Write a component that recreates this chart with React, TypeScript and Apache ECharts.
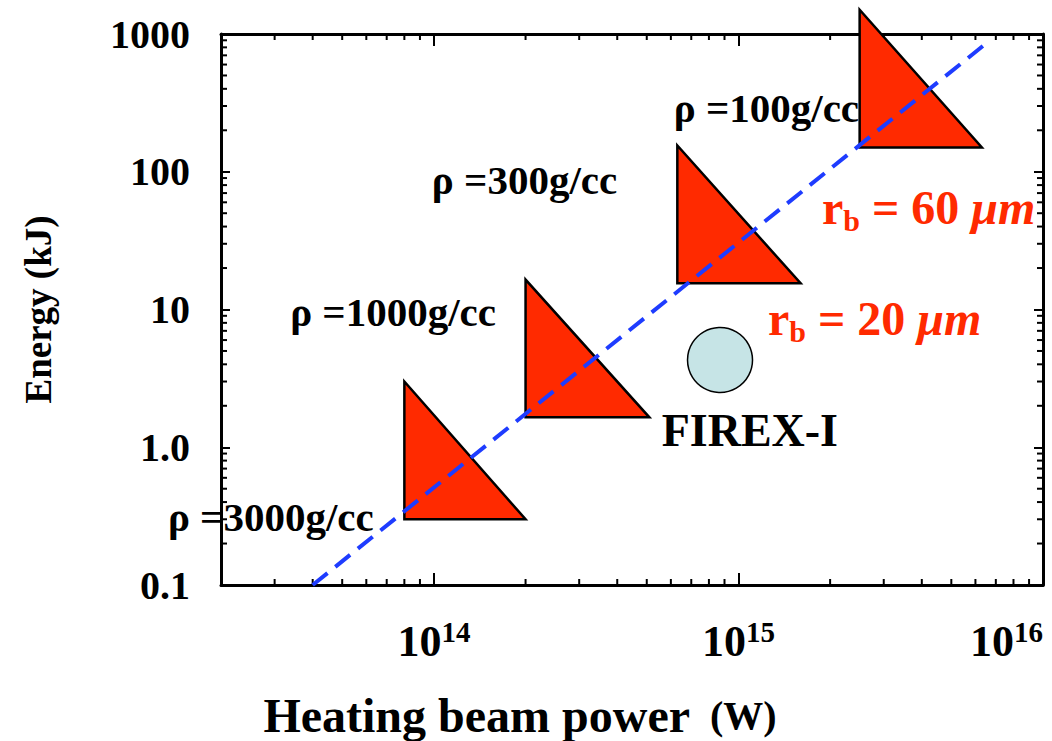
import { useEffect, useRef } from 'react';
import * as echarts from 'echarts';

const FONT = "'Liberation Serif', 'Times New Roman', Times, serif";
const RED = '#ff2a00';
const BLUE = '#1e3cff';

// axis extents
const xRange = [2e13, 1e16];
const yRange = [0.1, 1000];
const yTickLabels = ['0.1', '1.0', '10', '100', '1000'];

// heating windows per target density: beam power span and energy span
const densities = ['ρ =3000g/cc', 'ρ =1000g/cc', 'ρ =300g/cc', 'ρ =100g/cc'];
const powerFrom = [8e13, 2e14, 6.3e14, 2.5e15];
const powerTo = [2e14, 5.1e14, 1.6e15, 6.3e15];
const energyLow = [0.3, 1.65, 15.5, 150];
const energyHigh = [3, 16.5, 155, 1500];

// where each density label ends (right edge, vertical middle)
const densityLabelPower = [6.35e13, 1.6e14, 4.0e14, 2.49e15];
const densityLabelEnergy = [0.31, 9.6, 87, 290];

// scaling line
const scalingPower = [4e13, 6.4e15];
const scalingEnergy = [0.1, 830];

// FIREX-I operating point
const firexPower = [8.7e14];
const firexEnergy = [4.3];
const firexLabelPower = [1.09e15];
const firexLabelEnergy = [1.33];

// beam radius labels (left edge, vertical middle)
const beamRadius = ['60', '20'];
const beamLabelPower = [1.88e15, 1.25e15];
const beamLabelEnergy = [54.6, 8.67];

const MAJOR_X = 12;
const MAJOR_Y = 9;
const MINOR = 6;

function minorTicks(range: number[]): number[] {
  const out: number[] = [];
  const lo = Math.floor(Math.log10(range[0]));
  const hi = Math.ceil(Math.log10(range[1]));
  for (let e = lo; e < hi; e++) {
    for (let m = 2; m <= 9; m++) {
      const v = m * Math.pow(10, e);
      if (v > range[0] * 1.0001 && v < range[1]) out.push(v);
    }
  }
  return out;
}

const isDecade = (v: number) => Math.abs(Math.log10(v) - Math.round(Math.log10(v))) < 1e-6;

// invisible anchor used to hang text annotations on data coordinates
const anchorSeries = {
  type: 'scatter',
  z: 4,
  silent: true,
  symbol: 'circle',
  symbolSize: 0.1,
  itemStyle: { color: 'rgba(0,0,0,0)', opacity: 1 },
  emphasis: { disabled: true },
};

export default function App() {
  const ref = useRef<HTMLDivElement>(null);

  useEffect(() => {
    if (!ref.current) return;
    const chart = echarts.init(ref.current, undefined, { renderer: 'svg' });

    const axisLine = { show: true, onZero: false, lineStyle: { color: '#000', width: 3 } };
    const xBase: any = {
      type: 'log',
      logBase: 10,
      min: xRange[0],
      max: xRange[1],
      axisLine,
      axisTick: { show: true, inside: true, length: MAJOR_X, lineStyle: { color: '#000', width: 2 } },
      splitLine: { show: false },
      minorTick: { show: false },
    };
    const yBase: any = {
      type: 'log',
      logBase: 10,
      min: yRange[0],
      max: yRange[1],
      axisLine,
      axisTick: { show: true, inside: true, length: MAJOR_Y, lineStyle: { color: '#000', width: 2 } },
      splitLine: { show: false },
      minorTick: { show: false },
    };

    const tickLine = (x1: number, y1: number, x2: number, y2: number) => ({
      type: 'line',
      shape: { x1, y1, x2, y2 },
      style: { stroke: '#000', lineWidth: 2 },
    });

    const beamRich = {
      r: { fontFamily: FONT, fontWeight: 'bold', fontSize: 48, color: RED, lineHeight: 56 },
      s: { fontFamily: FONT, fontWeight: 'bold', fontSize: 30, color: RED, lineHeight: 26, verticalAlign: 'bottom' },
      i: { fontFamily: FONT, fontWeight: 'bold', fontStyle: 'italic', fontSize: 48, color: RED, lineHeight: 56 },
    };

    chart.setOption({
      animation: false,
      backgroundColor: '#fff',
      grid: { left: 221, right: 9, top: 34, bottom: 156, containLabel: false, outerBoundsMode: 'none' },
      xAxis: [
        {
          ...xBase,
          position: 'bottom',
          axisLabel: {
            margin: 32,
            alignMaxLabel: 'right',
            formatter: (v: number) => (isDecade(v) ? `{b|10}{s|${Math.round(Math.log10(v))}}` : ''),
            rich: {
              b: { fontFamily: FONT, fontWeight: 'bold', fontSize: 44, color: '#000', lineHeight: 48 },
              s: { fontFamily: FONT, fontWeight: 'bold', fontSize: 29, color: '#000', lineHeight: 26, verticalAlign: 'top' },
            },
          },
          name: '{a|Heating beam power}{w|  (W)}',
          nameLocation: 'middle',
          nameGap: 104,
          nameTextStyle: {
            padding: [0, 224, 0, 0],
            rich: {
              a: { fontFamily: FONT, fontWeight: 'bold', fontSize: 48, color: '#000', lineHeight: 52 },
              w: { fontFamily: FONT, fontWeight: 'bold', fontSize: 40, color: '#000', lineHeight: 52 },
            },
          },
        },
        { ...xBase, position: 'top', axisLabel: { show: false } },
      ],
      yAxis: [
        {
          ...yBase,
          position: 'left',
          axisLabel: {
            margin: 31,
            fontFamily: FONT,
            fontWeight: 'bold',
            fontSize: 40,
            color: '#000',
            formatter: (v: number) => yTickLabels[Math.round(Math.log10(v)) + 1] ?? '',
          },
          name: 'Energy (kJ)',
          nameLocation: 'middle',
          nameRotate: 90,
          nameGap: 164,
          nameTextStyle: { fontFamily: FONT, fontWeight: 'bold', fontSize: 37, color: '#000' },
        },
        { ...yBase, position: 'right', axisLabel: { show: false } },
      ],
      series: [
        // minor ticks on bottom and top edges
        {
          type: 'custom',
          silent: true,
          clip: false,
          z: 1,
          data: minorTicks(xRange).map((v) => [v, yRange[0]]),
          renderItem: (_p: any, api: any) => {
            const v = api.value(0);
            const b = api.coord([v, yRange[0]]);
            const t = api.coord([v, yRange[1]]);
            return {
              type: 'group',
              children: [tickLine(b[0], b[1], b[0], b[1] - MINOR), tickLine(t[0], t[1], t[0], t[1] + MINOR)],
            };
          },
        },
        // minor ticks on left and right edges
        {
          type: 'custom',
          silent: true,
          clip: false,
          z: 1,
          data: minorTicks(yRange).map((v) => [xRange[0], v]),
          renderItem: (_p: any, api: any) => {
            const v = api.value(1);
            const l = api.coord([xRange[0], v]);
            const r = api.coord([xRange[1], v]);
            return {
              type: 'group',
              children: [tickLine(l[0], l[1], l[0] + MINOR, l[1]), tickLine(r[0], r[1], r[0] - MINOR, r[1])],
            };
          },
        },
        // heating windows
        {
          type: 'custom',
          clip: false,
          z: 2,
          encode: { x: [0, 1], y: [2, 3] },
          data: densities.map((_, i) => [powerFrom[i], powerTo[i], energyLow[i], energyHigh[i]]),
          renderItem: (_p: any, api: any) => {
            const a = api.coord([api.value(0), api.value(3)]);
            const b = api.coord([api.value(0), api.value(2)]);
            const c = api.coord([api.value(1), api.value(2)]);
            return {
              type: 'polygon',
              shape: { points: [a, b, c] },
              style: { fill: RED, stroke: '#000', lineWidth: 2.5, lineJoin: 'miter' },
            };
          },
        },
        // scaling line
        {
          type: 'line',
          z: 3,
          showSymbol: false,
          silent: true,
          data: scalingPower.map((p, i) => [p, scalingEnergy[i]]),
          lineStyle: { color: BLUE, width: 4, type: [19, 10] },
        },
        // FIREX-I
        {
          type: 'scatter',
          z: 3,
          symbol: 'circle',
          symbolSize: 65,
          data: firexPower.map((p, i) => [p, firexEnergy[i]]),
          itemStyle: { color: '#c6e4e6', borderColor: '#000', borderWidth: 1.5, opacity: 1 },
        },
        // density labels
        {
          ...anchorSeries,
          data: densities.map((t, i) => ({ name: t, value: [densityLabelPower[i], densityLabelEnergy[i]] })),
          label: {
            show: true,
            position: 'left',
            distance: 0,
            formatter: '{b}',
            fontFamily: FONT,
            fontWeight: 'bold',
            fontSize: 41,
            color: '#000',
          },
        },
        // FIREX-I label
        {
          ...anchorSeries,
          data: firexLabelPower.map((p, i) => ({ name: 'FIREX-I', value: [p, firexLabelEnergy[i]] })),
          label: {
            show: true,
            position: 'inside',
            formatter: '{b}',
            fontFamily: FONT,
            fontWeight: 'bold',
            fontSize: 46,
            color: '#000',
          },
        },
        // beam radius labels
        {
          ...anchorSeries,
          data: beamRadius.map((r, i) => ({ name: r, value: [beamLabelPower[i], beamLabelEnergy[i]] })),
          label: {
            show: true,
            position: 'right',
            distance: 0,
            formatter: (p: any) => `{r|r}{s|b}{r| = ${p.name} }{i|μm}`,
            rich: beamRich,
          },
        },
      ],
    });

    return () => chart.dispose();
  }, []);

  return (
    <div
      ref={ref}
      style={{ position: 'fixed', left: 0, top: 0, width: 1052, height: 741, background: '#fff' }}
    />
  );
}
